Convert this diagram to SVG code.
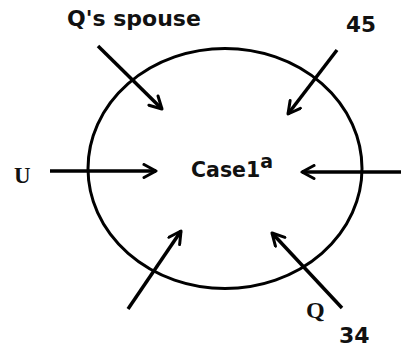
<svg xmlns="http://www.w3.org/2000/svg" width="401" height="350" viewBox="0 0 401 350">
<defs>
<marker id="ah" viewBox="0 0 16 16" refX="14" refY="8" markerWidth="16" markerHeight="16" markerUnits="userSpaceOnUse" orient="auto">
<path d="M2,1.5 L14,8 L2,14.5" fill="none" stroke="#000" stroke-width="3" stroke-linecap="round" stroke-linejoin="round"/>
</marker>
</defs>
<style>
.sans{font-family:"DejaVu Sans",Verdana,sans-serif;font-weight:bold;fill:#111}
.serif{font-family:"Liberation Serif","Times New Roman",serif;font-weight:bold;fill:#111}
.conn line{stroke:#000;stroke-width:3.5;marker-end:url(#ah)}
</style>
<rect width="401" height="350" fill="#fff"/>
<g id="case1a">
<ellipse cx="225" cy="168.5" rx="137" ry="120" fill="none" stroke="#000" stroke-width="3"/>
<text class="sans" x="191" y="177" font-size="20.5">Case1<tspan font-size="19" dy="-9">a</tspan></text>
</g>
<g id="qspouse"><text class="sans" x="67" y="26" font-size="22">Q's spouse</text></g>
<g id="n45"><text class="sans" x="346" y="32" font-size="21.5">45</text></g>
<g id="u"><text class="serif" x="14" y="183" font-size="23">U</text></g>
<g id="q"><text class="serif" x="306" y="318" font-size="24">Q</text></g>
<g id="n34"><text class="sans" x="339" y="343" font-size="22">34</text></g>
<g id="connectors" class="conn">
<line x1="98" y1="46" x2="162" y2="109"/>
<line x1="337" y1="50" x2="288" y2="114"/>
<line x1="50" y1="171" x2="156" y2="171"/>
<line x1="401" y1="172" x2="302" y2="172"/>
<line x1="128" y1="309" x2="181" y2="231"/>
<line x1="342" y1="308" x2="272" y2="233"/>
</g>
</svg>
